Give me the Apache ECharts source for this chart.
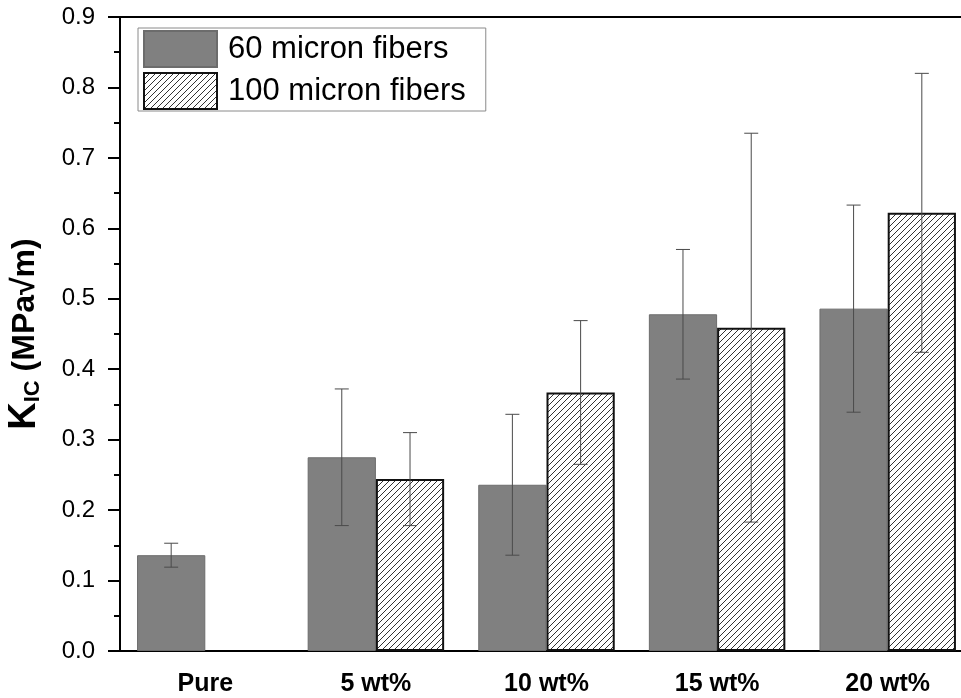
<!DOCTYPE html>
<html>
<head>
<meta charset="utf-8">
<style>
  html, body { margin: 0; padding: 0; background: #fff; }
  #chart { width: 961px; height: 698px; }
</style>
<script src="https://cdn.jsdelivr.net/npm/echarts@6/dist/echarts.min.js"></script>
</head>
<body>
<div id="chart"></div>
<script>
// Fracture toughness by fibre loading
const categories = ['Pure', '5 wt%', '10 wt%', '15 wt%', '20 wt%'];
const mean60 = [0.136, 0.275, 0.236, 0.478, 0.486];
const err60 = [0.017, 0.097, 0.100, 0.092, 0.147];
const mean100 = [null, 0.244, 0.367, 0.459, 0.622];
const err100 = [null, 0.066, 0.102, 0.276, 0.198];
const yTicks = { min: 0, max: 0.9, step: 0.1 };

const FONT = '"Liberation Sans", Arial, sans-serif';

// diagonal hatch tile for the 100 micron bars
function hatchTile() {
  const s = 6;
  const c = document.createElement('canvas');
  c.width = s; c.height = s;
  const g = c.getContext('2d');
  g.fillStyle = '#ffffff';
  g.fillRect(0, 0, s, s);
  g.strokeStyle = '#333333';
  g.lineWidth = 1;
  g.beginPath();
  g.moveTo(0, s); g.lineTo(s, 0);
  g.moveTo(-1, 1); g.lineTo(1, -1);
  g.moveTo(s - 1, s + 1); g.lineTo(s + 1, s - 1);
  g.stroke();
  return c;
}

function errData(means, errs) {
  const out = [];
  means.forEach((m, i) => {
    if (m != null && errs[i] != null) out.push([i, m, errs[i]]);
  });
  return out;
}

// error bar drawn at a fraction of the category band from its centre
function errRenderer(offset) {
  return function (params, api) {
    const ci = api.value(0), m = api.value(1), e = api.value(2);
    const band = api.size([1, 0])[0];
    const x = api.coord([ci, m])[0] + offset * band;
    const yt = api.coord([ci, m + e])[1];
    const yb = api.coord([ci, m - e])[1];
    const cap = 7;
    const st = { stroke: '#4a4a4a', lineWidth: 1 };
    return {
      type: 'group',
      children: [
        { type: 'line', shape: { x1: x, y1: yt, x2: x, y2: yb }, style: st },
        { type: 'line', shape: { x1: x - cap, y1: yt, x2: x + cap, y2: yt }, style: st },
        { type: 'line', shape: { x1: x - cap, y1: yb, x2: x + cap, y2: yb }, style: st }
      ]
    };
  };
}

const chart = echarts.init(document.getElementById('chart'), null, { renderer: 'canvas' });

chart.setOption({
  animation: false,
  backgroundColor: '#ffffff',
  textStyle: { fontFamily: FONT },
  grid: { left: 120, top: 17, width: 853, height: 634, outerBoundsMode: 'none', containLabel: false },
  legend: {
    data: ['60 micron fibers', '100 micron fibers'],
    orient: 'vertical',
    left: 138,
    top: 28,
    icon: 'rect',
    itemWidth: 73,
    itemHeight: 36,
    itemGap: 4,
    padding: [2, 20, 1, 5],
    borderColor: '#8a8a8a',
    borderWidth: 1,
    backgroundColor: '#ffffff',
    textStyle: { fontSize: 31, color: '#000', fontFamily: FONT, padding: [0, 0, 0, 6] }
  },
  xAxis: [
    {
      type: 'category',
      data: categories,
      position: 'bottom',
      axisLine: { lineStyle: { color: '#000', width: 2 } },
      axisTick: { alignWithLabel: true, length: 12, lineStyle: { color: '#000', width: 2 } },
      axisLabel: { fontSize: 25, fontWeight: 'bold', color: '#000', margin: 21, fontFamily: FONT },
      splitLine: { show: false }
    },
    {
      // short ticks on category boundaries
      type: 'category',
      data: categories,
      position: 'bottom',
      axisLine: { show: false },
      axisTick: { alignWithLabel: false, length: 6, lineStyle: { color: '#000', width: 2 } },
      axisLabel: { show: false },
      splitLine: { show: false }
    },
    {
      // top frame line
      type: 'category',
      data: categories,
      position: 'top',
      axisLine: { lineStyle: { color: '#000', width: 2 } },
      axisTick: { show: false },
      axisLabel: { show: false },
      splitLine: { show: false }
    }
  ],
  yAxis: {
    type: 'value',
    min: yTicks.min,
    max: yTicks.max,
    interval: yTicks.step,
    name: '{k|K}{s|IC}{n| (MPa√m)}',
    nameLocation: 'middle',
    nameRotate: 90,
    nameGap: 76,
    nameTextStyle: {
      rich: {
        k: { fontSize: 38, fontWeight: 'bold', color: '#000', fontFamily: FONT },
        s: { fontSize: 22, fontWeight: 'bold', color: '#000', fontFamily: FONT, padding: [16, 0, 0, 0] },
        n: { fontSize: 32, fontWeight: 'bold', color: '#000', fontFamily: FONT }
      }
    },
    axisLine: { show: true, lineStyle: { color: '#000', width: 2 } },
    axisTick: { show: true, length: 12, lineStyle: { color: '#000', width: 2 } },
    minorTick: { show: true, splitNumber: 2, length: 6, lineStyle: { color: '#000', width: 2 } },
    axisLabel: {
      fontSize: 24, color: '#000', margin: 25, fontFamily: FONT,
      formatter: v => v.toFixed(1)
    },
    splitLine: { show: false }
  },
  series: [
    {
      name: '60 micron fibers',
      type: 'bar',
      barWidth: '40%',
      barGap: '0%',
      data: mean60.map(v => (v == null ? '-' : v)),
      itemStyle: { color: '#808080', borderColor: '#6c6c6c', borderWidth: 1 },
      z: 2
    },
    {
      name: '100 micron fibers',
      type: 'bar',
      barWidth: '40%',
      barGap: '0%',
      data: mean100.map(v => (v == null ? '-' : v)),
      itemStyle: {
        color: { image: hatchTile(), repeat: 'repeat' },
        borderColor: '#111',
        borderWidth: 2
      },
      z: 2
    },
    {
      name: 'err60',
      type: 'custom',
      renderItem: errRenderer(-0.2),
      data: errData(mean60, err60),
      encode: { x: 0, y: 1 },
      z: 5,
      silent: true
    },
    {
      name: 'err100',
      type: 'custom',
      renderItem: errRenderer(0.2),
      data: errData(mean100, err100),
      encode: { x: 0, y: 1 },
      z: 5,
      silent: true
    }
  ]
});
</script>
</body>
</html>
